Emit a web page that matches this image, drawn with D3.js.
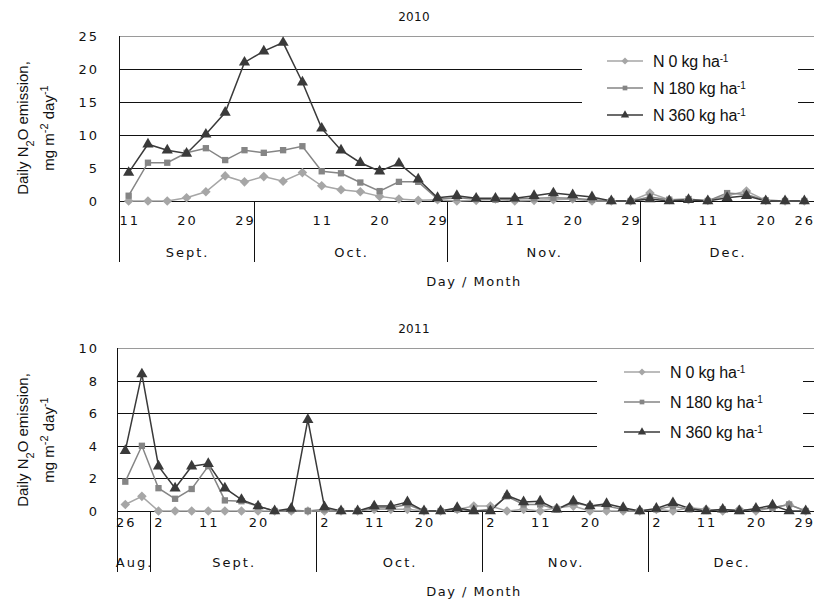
<!DOCTYPE html>
<html>
<head>
<meta charset="utf-8">
<script src="https://cdn.jsdelivr.net/npm/d3@7"></script>
<style>
  body { margin: 0; background: #fff; }
  svg { display: block; }
  .tick-txt { font-family: "DejaVu Sans", sans-serif; font-size: 13px; letter-spacing: 2px; fill: #111; }
  .leg-txt { font-family: "Liberation Sans", Arial, sans-serif; font-size: 16px; letter-spacing: -0.2px; fill: #111; }
  .ytitle { font-family: "Liberation Sans", Arial, sans-serif; font-size: 15px; fill: #111; }
</style>
</head>
<body>
<svg id="chart" width="814" height="603"></svg>
<script>
// sampling dates (category axis, one point per sampling day)
const dates2010 = [
  "Sep 11", "Sep 14", "Sep 17", "Sep 20", "Sep 23", "Sep 26", "Sep 29",
  "Oct 2", "Oct 5", "Oct 8", "Oct 11", "Oct 14", "Oct 17", "Oct 20", "Oct 23", "Oct 26", "Oct 29",
  "Nov 2", "Nov 5", "Nov 8", "Nov 11", "Nov 14", "Nov 17", "Nov 20", "Nov 23", "Nov 26", "Nov 29",
  "Dec 2", "Dec 5", "Dec 8", "Dec 11", "Dec 14", "Dec 17", "Dec 20", "Dec 23", "Dec 26"
];
const n0_2010 = [0, 0, 0, 0.5, 1.4, 3.8, 2.9, 3.7, 3.0, 4.3, 2.3, 1.7, 1.4, 0.7, 0.3, 0.1, 0.2,
  0, 0.1, 0.3, 0, 0.1, 0.2, 0.3, 0, 0, 0, 1.2, 0.2, 0.2, 0.1, 0.8, 1.5, 0.1, 0, 0];
const n180_2010 = [0.8, 5.8, 5.8, 7.3, 8.0, 6.2, 7.7, 7.3, 7.7, 8.3, 4.5, 4.2, 2.8, 1.5, 2.9, 2.9, 0.3,
  0.5, 0.3, 0.2, 0.3, 0.4, 0.5, 0.4, 0.2, 0, 0, 0.6, 0.2, 0.3, 0, 1.2, 1.0, 0.1, 0, 0];
const n360_2010 = [4.3, 8.6, 7.7, 7.2, 10.1, 13.4, 21.0, 22.7, 24.0, 18.0, 11.0, 7.7, 5.8, 4.5, 5.7, 3.3, 0.5,
  0.8, 0.4, 0.4, 0.4, 0.8, 1.2, 0.9, 0.6, 0, 0, 0.3, 0, 0.2, 0, 0.5, 0.8, 0, 0, 0];
const ticks2010 = ["Sep 11", "Sep 20", "Sep 29", "Oct 11", "Oct 20", "Oct 29",
  "Nov 11", "Nov 20", "Nov 29", "Dec 11", "Dec 20", "Dec 26"];

const dates2011 = [
  "Aug 26", "Aug 29",
  "Sep 2", "Sep 5", "Sep 8", "Sep 11", "Sep 14", "Sep 17", "Sep 20", "Sep 23", "Sep 26", "Sep 29",
  "Oct 2", "Oct 5", "Oct 8", "Oct 11", "Oct 14", "Oct 17", "Oct 20", "Oct 23", "Oct 26", "Oct 29",
  "Nov 2", "Nov 5", "Nov 8", "Nov 11", "Nov 14", "Nov 17", "Nov 20", "Nov 23", "Nov 26", "Nov 29",
  "Dec 2", "Dec 5", "Dec 8", "Dec 11", "Dec 14", "Dec 17", "Dec 20", "Dec 23", "Dec 26", "Dec 29"
];
const n0_2011 = [0.4, 0.9, 0, 0, 0, 0, 0, 0, 0, 0, 0, 0,
  0, 0, 0, 0.1, 0.1, 0.1, 0, 0, 0.1, 0.3, 0.3, 0, 0.1, 0, 0.2, 0.3, 0, 0,
  0, 0, 0.1, 0, 0.2, 0.1, 0, 0.1, 0, 0.2, 0.4, 0];
const n180_2011 = [1.8, 4.0, 1.4, 0.75, 1.35, 2.75, 0.65, 0.6, 0.3, 0, 0.05, 0,
  0.1, 0, 0, 0.2, 0.2, 0.4, 0, 0, 0.1, 0, 0.1, 0.9, 0.4, 0.4, 0.1, 0.5, 0.3, 0.3,
  0.1, 0, 0.1, 0.3, 0.1, 0, 0.1, 0, 0.1, 0.2, 0.4, 0];
const n360_2011 = [3.7, 8.4, 2.75, 1.4, 2.75, 2.9, 1.4, 0.7, 0.3, 0, 0.15, 5.6,
  0.25, 0, 0, 0.3, 0.3, 0.55, 0, 0, 0.2, 0, 0, 0.95, 0.55, 0.6, 0.1, 0.6, 0.3, 0.45,
  0.2, 0, 0.15, 0.5, 0.15, 0, 0.1, 0, 0.15, 0.35, 0, 0];
const ticks2011 = ["Aug 26", "Sep 2", "Sep 11", "Sep 20", "Oct 2", "Oct 11", "Oct 20",
  "Nov 2", "Nov 11", "Nov 20", "Dec 2", "Dec 11", "Dec 20", "Dec 29"];

const monthNames = { Aug: "Aug.", Sep: "Sept.", Oct: "Oct.", Nov: "Nov.", Dec: "Dec." };
const seriesNames = ["N 0 kg ha", "N 180 kg ha", "N 360 kg ha"];
const seriesColors = ["#a6a6a6", "#858585", "#3a3a3a"];
// diamond = square turned 45 degrees (Excel style)
const seriesMarkers = [d3.symbolSquare, d3.symbolSquare, d3.symbolTriangle];
const markerRot = [45, 0, 0];
const markerSizes = [46, 40, 54];

const svg = d3.select("#chart");
const W = 814;

function drawPanel(opt) {
  const g = svg.append("g");
  const x = d3.scaleBand().domain(opt.dates).range([opt.left, W]);
  const y = d3.scaleLinear().domain([0, opt.ymax]).range([opt.bottom, opt.top]);

  // title
  g.append("text").attr("class", "tick-txt")
    .attr("x", 414).attr("y", opt.top - 15)
    .attr("text-anchor", "middle").style("letter-spacing", "0.3px").style("font-size", "12px")
    .text(opt.title);

  // gridlines
  const yt = d3.range(0, opt.ymax + 0.01, opt.ystep);
  g.selectAll(".grid").data(yt).join("line")
    .attr("x1", opt.left).attr("x2", W)
    .attr("y1", d => Math.round(y(d)) + 0.5).attr("y2", d => Math.round(y(d)) + 0.5)
    .attr("stroke", d => d === opt.ymax ? "#9a9a9a" : "#111")
    .attr("stroke-width", 1);

  // y tick labels
  g.selectAll(".ylab").data(yt).join("text")
    .attr("class", "tick-txt")
    .attr("x", 99).attr("y", d => y(d) + 5)
    .attr("text-anchor", "end")
    .text(d => d);

  // left axis line and month separators
  const axisBottom = opt.bottom + 61;
  g.append("line")
    .attr("x1", opt.left + 0.5).attr("x2", opt.left + 0.5)
    .attr("y1", opt.top).attr("y2", axisBottom)
    .attr("stroke", "#111");

  const monthOf = d => d.split(" ")[0];
  const months = [];
  opt.dates.forEach(d => {
    const m = monthOf(d);
    if (!months.length || months[months.length - 1].m !== m) months.push({ m, first: d, last: d });
    else months[months.length - 1].last = d;
  });
  months.forEach((mo, i) => {
    const x0 = i === 0 ? opt.left : x(mo.first);
    const x1 = x(mo.last) + x.bandwidth();
    if (i > 0) {
      g.append("line")
        .attr("x1", Math.round(x0) + 0.5).attr("x2", Math.round(x0) + 0.5)
        .attr("y1", opt.bottom).attr("y2", axisBottom)
        .attr("stroke", "#111");
    }
    g.append("text").attr("class", "tick-txt")
      .attr("x", (x0 + Math.min(x1, W)) / 2 + 1)
      .attr("y", opt.bottom + 56)
      .attr("text-anchor", "middle")
      .text(monthNames[mo.m]);
  });

  // day tick labels
  g.selectAll(".xlab").data(opt.ticks).join("text")
    .attr("class", "tick-txt")
    .attr("x", d => {
      const cx = x(d) + x.bandwidth() / 2 + 1;
      return cx + 11 > W ? W + 1 : cx;
    })
    .attr("y", opt.bottom + opt.tickDy)
    .attr("text-anchor", d => (x(d) + x.bandwidth() / 2 + 12 > W ? "end" : "middle"))
    .text(d => d.split(" ")[1]);

  // axis title
  g.append("text").attr("class", "tick-txt")
    .attr("x", 474).attr("y", opt.bottom + 85)
    .attr("text-anchor", "middle").style("letter-spacing", "1.5px")
    .text("Day / Month");

  // y title
  const yc = opt.ytitleY;
  const t1 = g.append("text").attr("class", "ytitle")
    .attr("transform", `translate(28,${yc}) rotate(-90)`)
    .attr("text-anchor", "middle");
  t1.append("tspan").text(opt.ytitle1);
  t1.append("tspan").attr("baseline-shift", "sub").style("font-size", "11px").text("2");
  t1.append("tspan").text("O emission,");
  const t2 = g.append("text").attr("class", "ytitle")
    .attr("transform", `translate(54,${yc}) rotate(-90)`)
    .attr("text-anchor", "middle");
  t2.append("tspan").text("mg m");
  t2.append("tspan").attr("baseline-shift", "super").style("font-size", "11px").text("-2");
  t2.append("tspan").text(" day");
  t2.append("tspan").attr("baseline-shift", "super").style("font-size", "11px").text("-1");

  // legend (white box hides gridlines)
  const lg = g.append("g");
  lg.append("rect")
    .attr("x", opt.legX).attr("y", opt.legY)
    .attr("width", opt.legW).attr("height", opt.legH)
    .attr("fill", "#fff");
  seriesNames.forEach((name, i) => {
    const ly = opt.legY + opt.legRow0 + i * opt.legDy;
    lg.append("line")
      .attr("x1", opt.legLineX).attr("x2", opt.legLineX + 36)
      .attr("y1", ly).attr("y2", ly)
      .attr("stroke", seriesColors[i]).attr("stroke-width", 1.5);
    lg.append("path")
      .attr("d", d3.symbol(seriesMarkers[i], markerSizes[i] * 0.55)())
      .attr("transform", `translate(${opt.legLineX + 18},${ly}) rotate(${markerRot[i]})`)
      .attr("fill", seriesColors[i]);
    const t = lg.append("text").attr("class", "leg-txt")
      .attr("x", opt.legLineX + 46).attr("y", ly + 6);
    t.append("tspan").text(name);
    t.append("tspan").attr("baseline-shift", "super").style("font-size", "10px").text("-1");
  });

  // series
  const line = d3.line().x((d, i) => x(opt.dates[i]) + x.bandwidth() / 2).y(d => y(d));
  opt.series.forEach((vals, i) => {
    g.append("path").datum(vals)
      .attr("d", line)
      .attr("fill", "none")
      .attr("stroke", seriesColors[i])
      .attr("stroke-width", 1.5);
  });
  opt.series.forEach((vals, i) => {
    g.selectAll(null).data(vals).join("path")
      .attr("d", d3.symbol(seriesMarkers[i], markerSizes[i])())
      .attr("transform", (d, j) => `translate(${x(opt.dates[j]) + x.bandwidth() / 2},${y(d)}) rotate(${markerRot[i]})`)
      .attr("fill", seriesColors[i]);
  });
}

drawPanel({
  title: "2010", dates: dates2010, ticks: ticks2010,
  series: [n0_2010, n180_2010, n360_2010],
  left: 119, top: 36, bottom: 201, ymax: 25, ystep: 5, tickDy: 24,
  ytitle1: "Daily  N", ytitleY: 128,
  legX: 582, legY: 42, legW: 216, legH: 86, legRow0: 19, legDy: 27, legLineX: 607
});

drawPanel({
  title: "2011", dates: dates2011, ticks: ticks2011,
  series: [n0_2011, n180_2011, n360_2011],
  left: 117, top: 348, bottom: 511, ymax: 10, ystep: 2, tickDy: 16,
  ytitle1: "Daily N", ytitleY: 440,
  legX: 597, legY: 354, legW: 206, legH: 100, legRow0: 18, legDy: 30, legLineX: 624
});
</script>
</body>
</html>
